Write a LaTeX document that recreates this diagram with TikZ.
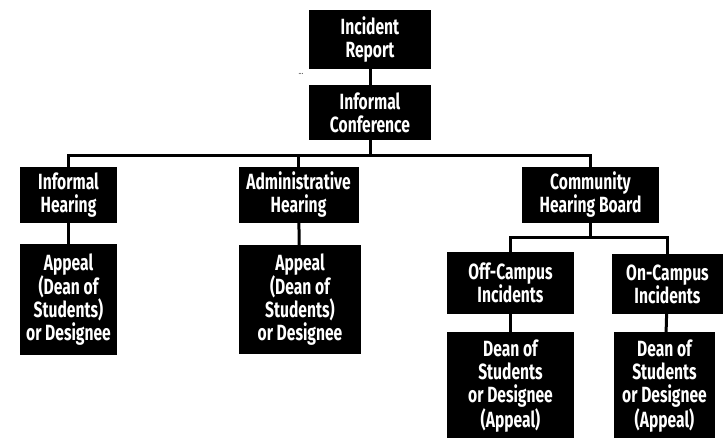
\documentclass[tikz,border=0pt]{standalone}
\usepackage{fontspec}
\setmainfont{Fira Sans}[FakeStretch=0.71]
\usepackage{tikz}
\usetikzlibrary{positioning,calc}
\tikzset{
  box/.style={fill=black,text=white,align=center,inner sep=0pt,font=\fontsize{22}{23}\selectfont\bfseries},
  link/.style={line width=3pt,black}
}

\begin{document}
\begin{tikzpicture}[x=1pt,y=-1pt]
\useasboundingbox (0,0) rectangle (727,438);
\node[box,minimum width=122pt,minimum height=59pt] (IR) at (370,39.5) {Incident\\Report};
\node[box,minimum width=122pt,minimum height=55pt] (IC) at (370,112.5) {Informal\\Conference};
\node[box,minimum width=97pt,minimum height=56pt] (IH) at (68.5,195) {Informal\\Hearing};
\node[box,minimum width=120pt,minimum height=56pt] (AH) at (298.5,195) {Administrative\\Hearing};
\node[box,minimum width=137pt,minimum height=56pt] (CHB) at (590.5,195) {Community\\Hearing Board};
\node[box,minimum width=97pt,minimum height=111pt] (AP1) at (68.5,299.5) {Appeal\\(Dean of\\Students)\\or Designee};
\node[box,minimum width=122pt,minimum height=109pt] (AP2) at (300,299.5) {Appeal\\(Dean of\\Students)\\or Designee};
\node[box,minimum width=127pt,minimum height=62pt] (OFF) at (510.5,283) {Off-Campus\\Incidents};
\node[box,minimum width=111pt,minimum height=60pt] (ON) at (667.5,284) {On-Campus\\Incidents};
\node[box,minimum width=127pt,minimum height=108pt] (DN1) at (510.5,386) {Dean of\\Students\\or Designee\\(Appeal)};
\node[box,minimum width=101pt,minimum height=108pt] (DN2) at (664.5,386) {Dean of\\Students\\or Designee\\(Appeal)};
\node[font=\small,text=black!80] (dots) at (301,74) {...};
% connectors
\draw[link] (IR) -- (IC);
\draw[link] (IC.south) -- ++(0,15) coordinate (bus);
\draw[link] (IH.north) |- (bus) -| (CHB.north);
\draw[link] (AH.north) -- (AH.north |- bus);
\draw[link] (IH) -- (AP1);
\draw[link] (AH) -- (AP2);
\draw[link] (CHB.south) -- ++(0,14) coordinate (sub);
\draw[link] (OFF.north) |- (sub) -| (ON.north);
\draw[link] (OFF) -- (DN1);
\draw[link] (ON) -- (DN2);
\end{tikzpicture}
\end{document}
